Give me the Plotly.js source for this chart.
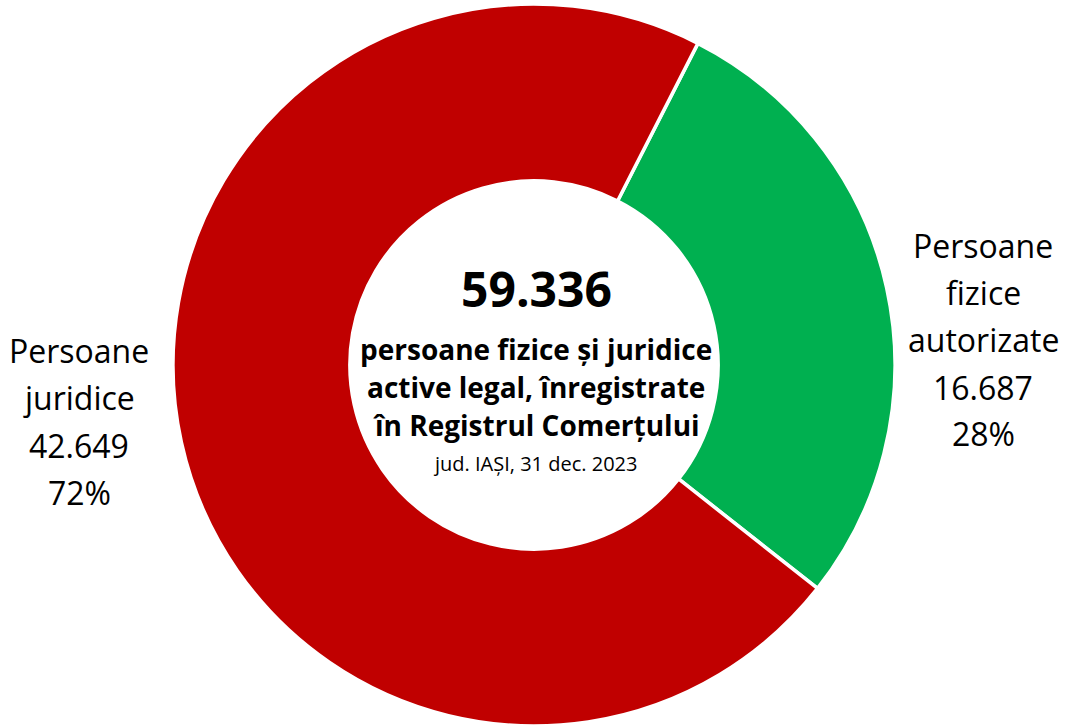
<!DOCTYPE html>
<html>
<head>
<meta charset="utf-8">
<script src="https://cdn.plot.ly/plotly-3.0.1.min.js"></script>
<style>html,body{margin:0;padding:0;background:#fff;overflow:hidden}#chart{width:1068px;height:726px}</style>
</head>
<body>
<div id="chart"></div>
<script>
const categories = ["Persoane fizice autorizate", "Persoane juridice"];
const values = [16687, 42649];
const percents = ["28%", "72%"];
const valueLabels = ["16.687", "42.649"];
const totalLabel = "59.336";
const colors = ["#00B050", "#C00000"];
const rightLines = ["Persoane", "fizice", "autorizate", valueLabels[0], percents[0]];
const leftLines = ["Persoane", "juridice", valueLabels[1], percents[1]];
const centerLines = ["persoane fizice și juridice", "active legal, înregistrate", "în Registrul Comerțului"];
const subLine = "jud. IAȘI, 31 dec. 2023";

const W = 1068, H = 726;
const FONT = "Open Sans, sans-serif";
function px(x){return x / W;}
function py(y){return 1 - y / H;}

const annotations = [];
function addLine(text, x, baseline, size, bold){
  annotations.push({
    text: bold ? "<b>" + text + "</b>" : text,
    x: px(x), y: py(baseline - 0.39 * size), xref: "paper", yref: "paper",
    xanchor: "center", yanchor: "middle", showarrow: false,
    font: {family: FONT, size: size, color: "#000"}
  });
}
const rightBase = [258, 305, 352, 400, 446];
rightLines.forEach((t, i) => addLine(t, 983, rightBase[i], 32, false));
const leftBase = [363, 410, 458, 505];
leftLines.forEach((t, i) => addLine(t, 79, leftBase[i], 32, false));
addLine(totalLabel, 536, 307, 48, true);
const cBase = [360, 398, 436];
centerLines.forEach((t, i) => addLine(t, 536, cBase[i], 28, true));
addLine(subLine, 535, 471, 20, false);

const trace = {
  type: "pie",
  labels: categories,
  values: values,
  sort: false,
  direction: "clockwise",
  rotation: 27,
  hole: 0.51,
  textinfo: "none",
  hoverinfo: "label+value+percent",
  marker: {colors: colors, line: {color: "#ffffff", width: 3.5}},
  domain: {x: [px(173), px(895)], y: [0, py(4)]},
  showlegend: false
};

Plotly.newPlot("chart", [trace], {
  width: W, height: H,
  margin: {l: 0, r: 0, t: 0, b: 0},
  paper_bgcolor: "#fff",
  showlegend: false,
  annotations: annotations
}, {displayModeBar: false, staticPlot: true});
</script>
</body>
</html>
